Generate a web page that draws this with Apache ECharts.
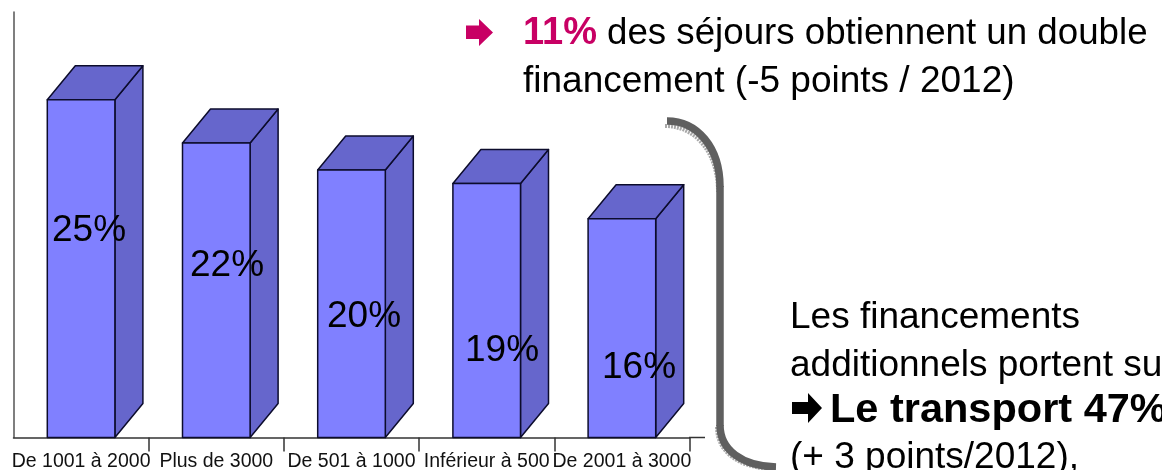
<!DOCTYPE html>
<html>
<head>
<meta charset="utf-8">
<style>
  html, body { margin: 0; padding: 0; background: #fff; }
  #chart { width: 1162px; height: 470px; }
</style>
<script src="https://cdn.jsdelivr.net/npm/echarts@6/dist/echarts.min.js"></script>
</head>
<body>
<div id="chart"></div>
<script>
// Données
const categories = ['De 1001 à 2000', 'Plus de 3000', 'De 501 à 1000', 'Inférieur à 500', 'De 2001 à 3000']
const values = [25, 21.8, 19.8, 18.8, 16.2]
const valueLabels = ['25%', '22%', '20%', '19%', '16%']

const FONT = '"Liberation Sans", Arial, sans-serif'
const DEPTH_X = 28
const DEPTH_Y = 34
const EDGE = '#0c0c2c'

// Les étiquettes sont posées à la main sur les barres dans l'original
const labelAnchors = [[89, 231], [227, 266], [364, 317], [502, 351], [639, 368]]

const renderBar = (params, api) => {
  const base = api.coord([api.value(0), 0])
  const top = api.coord([api.value(0), api.value(1)])
  const w = api.size([1, 0])[0] / 2
  const l = base[0] - w / 2
  const r = base[0] + w / 2
  const edge = { stroke: EDGE, lineWidth: 1.5, lineJoin: 'round' }
  return {
    type: 'group',
    children: [
      {
        type: 'polygon',
        shape: { points: [[r, base[1]], [r, top[1]], [r + DEPTH_X, top[1] - DEPTH_Y], [r + DEPTH_X, base[1] - DEPTH_Y]] },
        style: { fill: '#6666cc', ...edge }
      },
      {
        type: 'polygon',
        shape: { points: [[l, top[1]], [r, top[1]], [r + DEPTH_X, top[1] - DEPTH_Y], [l + DEPTH_X, top[1] - DEPTH_Y]] },
        style: { fill: '#6666cc', ...edge }
      },
      {
        type: 'rect',
        shape: { x: l, y: top[1], width: r - l, height: base[1] - top[1] },
        style: { fill: '#8080ff', ...edge }
      }
    ]
  }
}

const text = (x, y, content, extra = {}) => ({
  type: 'text',
  x,
  y,
  z: 20,
  style: { text: content, fill: '#000', font: `37px ${FONT}`, textVerticalAlign: 'middle', ...extra }
})

const arrow = (x0, xh, x1, y0, s0, s1, y1, fill) => ({
  type: 'polygon',
  z: 20,
  shape: { points: [[x0, s0], [xh, s0], [xh, y0], [x1, (y0 + y1) / 2], [xh, y1], [xh, s1], [x0, s1]] },
  style: { fill }
})

// accolade grise : deux courbes et un trait vertical
const topCurve = { x1: 667, y1: 121, cpx1: 697, cpy1: 121, cpx2: 720, cpy2: 147, x2: 720, y2: 187 }
const bottomCurve = { x1: 720, y1: 425, cpx1: 720, cpy1: 450, cpx2: 742, cpy2: 466, x2: 776, y2: 467 }
const bracketStyle = { stroke: '#5f5f5f', lineWidth: 7.5, fill: null }
const ditherStyle = { stroke: '#a8a8a8', lineWidth: 4, lineDash: [2, 1], fill: null }

const option = {
  animation: false,
  backgroundColor: '#fff',
  grid: { left: 13.5, top: 12, width: 676, height: 425.5, outerBoundsMode: 'none' },
  xAxis: {
    type: 'category',
    data: categories,
    axisLine: { lineStyle: { color: '#333', width: 1.5 } },
    axisTick: { show: true, length: 14, interval: i => i > 0, lineStyle: { color: '#333', width: 1.5 } },
    axisLabel: { color: '#111', fontFamily: FONT, fontSize: 19.5, margin: 14, interval: 0 }
  },
  yAxis: {
    type: 'value',
    min: 0,
    max: 31.5,
    axisLine: { show: true, lineStyle: { color: '#555', width: 1.5 } },
    axisTick: { show: false },
    axisLabel: { show: false },
    splitLine: { show: false }
  },
  series: [{
    type: 'custom',
    renderItem: renderBar,
    encode: { x: 0, y: 1 },
    data: categories.map((c, i) => [i, values[i]])
  }],
  graphic: [
    // prolongement de l'axe à droite
    { type: 'line', shape: { x1: 689, y1: 437.5, x2: 705, y2: 437.5 }, style: { stroke: '#333', lineWidth: 1.5 } },
    ...valueLabels.map((t, i) => text(labelAnchors[i][0], labelAnchors[i][1], t, { textAlign: 'center' })),
    arrow(466, 479, 493, 19, 25.5, 39, 46, '#c80064'),
    text(523, 34, '11%', { font: `bold 38px ${FONT}`, fill: '#c80064' }),
    text(607, 34, 'des séjours obtiennent un double', { font: `36.7px ${FONT}` }),
    text(523, 82, 'financement (-5 points / 2012)'),
    { type: 'bezierCurve', z: 5, x: -2, y: 5, shape: topCurve, style: ditherStyle },
    { type: 'bezierCurve', z: 5, x: -3, y: 2, shape: bottomCurve, style: ditherStyle },
    { type: 'bezierCurve', z: 6, shape: topCurve, style: bracketStyle },
    { type: 'line', z: 6, shape: { x1: 720, y1: 186, x2: 720, y2: 426 }, style: bracketStyle },
    { type: 'bezierCurve', z: 6, shape: bottomCurve, style: bracketStyle },
    text(790, 318, 'Les financements'),
    text(790, 366, 'additionnels portent sur'),
    arrow(792, 808, 822, 393, 402, 414, 423, '#000'),
    text(830, 411, 'Le transport 47%', { font: `bold 41.5px ${FONT}` }),
    text(790, 458, '(+ 3 points/2012),')
  ]
}

const chartInstance = echarts.init(document.getElementById('chart'))
chartInstance.setOption(option)
</script>
</body>
</html>
